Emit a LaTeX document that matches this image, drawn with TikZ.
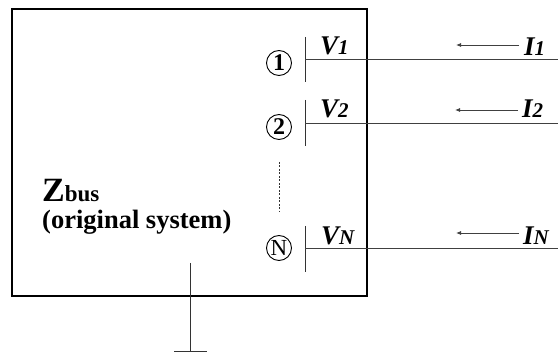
\documentclass[tikz,border=0pt]{standalone}
\usepackage{fontspec}
\setmainfont{Liberation Serif}
\usetikzlibrary{arrows.meta}
\tikzset{
  lbl/.style={anchor=base west, inner sep=0pt, font=\bfseries\itshape\fontsize{27}{27}\selectfont},
  busnum/.style={circle, draw, line width=0.9pt, minimum size=25pt, inner sep=0pt, font=\bfseries\fontsize{24}{24}\selectfont},
  busbar/.style={draw=black!80, line width=0.9pt},
  wire/.style={draw=black!75, line width=0.9pt},
  curr/.style={draw=black!75, line width=0.8pt, -{Latex[length=5pt,width=4pt]}},
  boxline/.style={draw=black, line width=1.4pt}
}
\newcommand{\subsz}{\fontsize{21}{21}\selectfont}
\begin{document}
\begin{tikzpicture}[x=1pt,y=-1pt]
\useasboundingbox (0,0) rectangle (558,358);
% main box
\draw[boxline] (12,9) rectangle (367,296);
% Zbus label
\node[anchor=base west, inner sep=0pt, font=\bfseries] (zb) at (42,202) {\fontsize{34}{34}\selectfont Z\fontsize{23}{23}\selectfont bus};
\node[anchor=base west, inner sep=0pt, font=\bfseries\fontsize{26.5}{26.5}\selectfont] (orig) at (42,229) {(original system)};
% bus 1
\node[busnum] (c1) at (279,63) {1};
\coordinate (b1t) at (305,37);
\coordinate (b1b) at (305,82);
\coordinate (b1m) at (305,59);
\coordinate (b1e) at (558,59);
\draw[busbar] (b1t) -- (b1b);
\draw[wire] (b1m) -- (b1e);
\node[lbl] (v1) at (320,55) {V{\subsz 1}};
\coordinate (a1s) at (519,45);
\coordinate (a1e) at (456,45);
\draw[curr] (a1s) -- (a1e);
\node[lbl] (i1) at (524,56) {I{\subsz 1}};
% bus 2
\node[busnum] (c2) at (279,127) {2};
\coordinate (b2t) at (305,100);
\coordinate (b2b) at (305,146);
\coordinate (b2m) at (305,123);
\coordinate (b2e) at (558,123);
\draw[busbar] (b2t) -- (b2b);
\draw[wire] (b2m) -- (b2e);
\node[lbl] (v2) at (320,118) {V{\subsz 2}};
\coordinate (a2s) at (518,110);
\coordinate (a2e) at (455,110);
\draw[curr] (a2s) -- (a2e);
\node[lbl] (i2) at (522,118) {I{\subsz 2}};
% dots
\coordinate (d1) at (279,162);
\coordinate (d2) at (279,212);
\draw[draw=black!80, line width=0.8pt, dash pattern=on 2pt off 1.5pt] (d1) -- (d2);
% bus N
\node[busnum, font=\fontsize{23}{23}\selectfont] (cn) at (279,248) {N};
\coordinate (bnt) at (305,226);
\coordinate (bnb) at (305,272);
\coordinate (bnm) at (305,248);
\coordinate (bne) at (558,248);
\draw[busbar] (bnt) -- (bnb);
\draw[wire] (bnm) -- (bne);
\node[lbl] (vn) at (321,245) {V{\subsz N}};
\coordinate (ans) at (519,233);
\coordinate (ane) at (456,233);
\draw[curr] (ans) -- (ane);
\node[lbl] (in) at (523,245) {I{\subsz N}};
% ground
\coordinate (g1) at (190,263);
\coordinate (g2) at (190,351);
\coordinate (gl) at (174,351);
\coordinate (gr) at (207,351);
\draw[busbar] (g1) -- (g2);
\draw[busbar] (gl) -- (gr);
\end{tikzpicture}
\end{document}
